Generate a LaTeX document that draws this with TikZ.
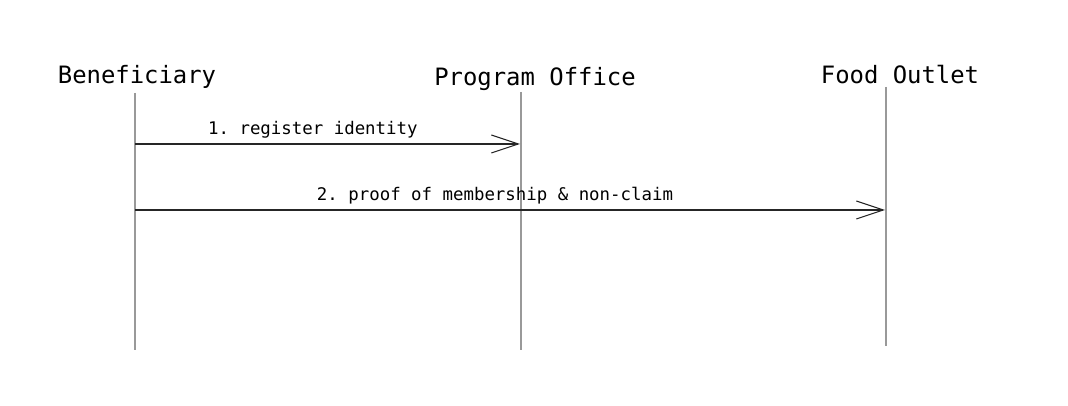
\documentclass[tikz,border=0pt]{standalone}
\usepackage{fontspec}
\setmonofont{DejaVu Sans Mono}
\usetikzlibrary{arrows.meta}
\tikzset{
  actor/.style={anchor=base, font=\ttfamily\fontsize{13.6}{16}\selectfont},
  lifeline/.style={draw=black!40, line width=1.1pt},
  msg/.style={draw=black!85, line width=0.7pt, -{Straight Barb[length=0.54cm, width=0.36cm, line width=0.6pt]}},
  msglabel/.style={anchor=base, yshift=0.18cm, font=\ttfamily\fontsize{9.9}{12}\selectfont}
}
\begin{document}
\begin{tikzpicture}
    \useasboundingbox (0,0) rectangle (21.36,8.12);
    \node[actor] (ben) at (2.74,6.44) {Beneficiary};
    \node[actor] (office) at (10.70,6.40) {Program Office};
    \node[actor] (outlet) at (18.00,6.44) {Food Outlet};
    \coordinate (benTop) at (2.70,6.26);
    \coordinate (benBot) at (2.70,1.12);
    \coordinate (officeTop) at (10.42,6.28);
    \coordinate (officeBot) at (10.42,1.12);
    \coordinate (outletTop) at (17.72,6.38);
    \coordinate (outletBot) at (17.72,1.20);
    \draw [lifeline] (benTop) -- (benBot);
    \draw [lifeline] (officeTop) -- (officeBot);
    \draw [lifeline] (outletTop) -- (outletBot);
    \coordinate (m1a) at (2.70,5.24);
    \coordinate (m1b) at (10.40,5.24);
    \coordinate (m2a) at (2.70,3.92);
    \coordinate (m2b) at (17.70,3.92);
    \draw [msg] (m1a) -- node[msglabel, pos=0.462] (m1) {1. register identity} (m1b);
    \draw [msg] (m2a) -- node[msglabel, pos=0.48] (m2) {2. proof of membership \& non-claim} (m2b);
\end{tikzpicture}
\end{document}
